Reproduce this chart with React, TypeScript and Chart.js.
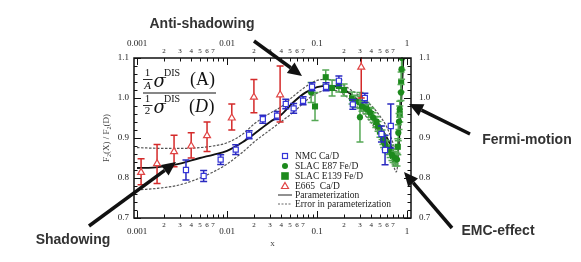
import React, { useEffect, useRef } from 'react';
import { Chart, registerables } from 'chart.js';

Chart.register(...registerables);

const W = 581;
const H = 262;

// ---- axis ticks ----
const xDecades = [0.001, 0.01, 0.1, 1];
const xDecadeLabels = ['0.001', '0.01', '0.1', '1'];
const xMinorDigits = [2, 3, 4, 5, 6, 7];
const yMajor = [0.7, 0.8, 0.9, 1.0, 1.1];
const yMajorLabels = ['0.7', '0.8', '0.9', '1.0', '1.1'];

// ---- NMC Ca/D ----
const nmcX = [0.0035, 0.0055, 0.0085, 0.0125, 0.0176, 0.025, 0.036, 0.045, 0.055, 0.07, 0.088, 0.126, 0.175, 0.25, 0.34, 0.52, 0.57, 0.66];
const nmcY = [0.82, 0.805, 0.846, 0.871, 0.908, 0.947, 0.956, 0.985, 0.974, 0.993, 1.028, 1.028, 1.043, 0.984, 1.0, 0.91, 0.87, 0.93];
const nmcErr = [0.025, 0.014, 0.012, 0.012, 0.01, 0.01, 0.01, 0.012, 0.012, 0.01, 0.01, 0.01, 0.012, 0.012, 0.012, 0.02, 0.037, 0.055];

// ---- SLAC E87 Fe/D ----
const e87X = [0.086, 0.264, 0.3, 0.316, 0.36, 0.388, 0.42, 0.46, 0.476, 0.528, 0.54, 0.57, 0.63, 0.68, 0.735, 0.774, 0.8, 0.815, 0.83, 0.857, 0.87, 0.88];
const e87Y = [1.014, 0.992, 0.952, 0.979, 0.972, 0.964, 0.951, 0.941, 0.929, 0.908, 0.896, 0.883, 0.871, 0.858, 0.85, 0.846, 0.913, 0.941, 0.972, 1.014, 1.072, 1.1];
const e87Err = [0.025, 0.015, 0.062, 0.012, 0.012, 0.012, 0.012, 0.012, 0.012, 0.012, 0.012, 0.012, 0.012, 0.014, 0.015, 0.016, 0.02, 0.02, 0.02, 0.02, 0.025, 0.03];

// ---- SLAC E139 Fe/D ----
const e139X = [0.095, 0.125, 0.147, 0.175, 0.2, 0.245, 0.3, 0.35, 0.4, 0.45, 0.5, 0.55, 0.6, 0.65, 0.7, 0.74, 0.79, 0.83, 0.86];
const e139Y = [0.979, 1.052, 1.025, 1.03, 1.02, 1.0, 0.989, 0.975, 0.96, 0.94, 0.916, 0.89, 0.878, 0.866, 0.855, 0.848, 0.878, 0.96, 1.04];
const e139Err = [0.035, 0.018, 0.02, 0.015, 0.015, 0.015, 0.015, 0.014, 0.014, 0.014, 0.014, 0.014, 0.015, 0.015, 0.016, 0.018, 0.02, 0.02, 0.025];

// ---- E665 Ca/D ----
const e665X = [0.00111, 0.00167, 0.00258, 0.004, 0.006, 0.0113, 0.0199, 0.0389, 0.31];
const e665Y = [0.814, 0.836, 0.866, 0.88, 0.906, 0.95, 1.002, 1.008, 1.077];
const e665Lo = [0.783, 0.786, 0.828, 0.85, 0.866, 0.92, 0.963, 0.94, 1.0];
const e665Hi = [0.848, 0.884, 0.907, 0.913, 0.94, 0.985, 1.046, 1.08, 1.16];

// ---- Parameterization ----
const paramX = [0.001, 0.0015, 0.002, 0.003, 0.005, 0.007, 0.01, 0.015, 0.02, 0.03, 0.04, 0.055, 0.075, 0.1, 0.13, 0.17, 0.22, 0.3, 0.4, 0.5, 0.6, 0.68, 0.73, 0.76, 0.79, 0.82, 0.85, 0.88, 0.91, 0.93];
const paramY = [0.825, 0.826, 0.829, 0.836, 0.85, 0.858, 0.868, 0.89, 0.91, 0.94, 0.958, 0.99, 1.014, 1.027, 1.031, 1.028, 1.015, 0.99, 0.962, 0.93, 0.9, 0.875, 0.857, 0.85, 0.862, 0.905, 0.97, 1.03, 1.1, 1.15];

// ---- Error band (upper / lower) ----
const upX = [0.001, 0.002, 0.003, 0.005, 0.007, 0.01, 0.015, 0.02, 0.03, 0.04, 0.055, 0.08, 0.1, 0.13, 0.17, 0.25, 0.39, 0.5, 0.6, 0.68, 0.73, 0.77, 0.8, 0.83, 0.86, 0.89, 0.92];
const upY = [0.876, 0.874, 0.874, 0.876, 0.88, 0.888, 0.91, 0.935, 0.962, 0.978, 1.005, 1.033, 1.044, 1.047, 1.04, 1.017, 0.984, 0.955, 0.926, 0.895, 0.876, 0.872, 0.895, 0.95, 1.02, 1.09, 1.16];
const loX = [0.001, 0.002, 0.003, 0.005, 0.007, 0.01, 0.015, 0.02, 0.03, 0.04, 0.055, 0.08, 0.1, 0.13, 0.17, 0.25, 0.39, 0.5, 0.6, 0.68, 0.73, 0.76, 0.78, 0.8, 0.83, 0.86, 0.89, 0.92];
const loY = [0.77, 0.776, 0.783, 0.8, 0.815, 0.835, 0.865, 0.89, 0.92, 0.941, 0.965, 0.998, 1.012, 1.02, 1.017, 0.989, 0.941, 0.905, 0.876, 0.845, 0.822, 0.815, 0.825, 0.855, 0.92, 1.0, 1.08, 1.16];

const legendLabels = ['NMC Ca/D', 'SLAC E87 Fe/D', 'SLAC E139 Fe/D', 'E665  Ca/D', 'Parameterization', 'Error in parameterization'];

const BLUE = '#3434d8';
const BLUE_ERR = '#2a2ac0';
const GREEN = '#1d8a1d';
const GREEN_ERR = '#55a855';
const RED = '#e04444';
const RED_ERR = '#d42a2a';

const SERIF = '"Liberation Serif", "DejaVu Serif", serif';
const SANS = '"Liberation Sans", Arial, sans-serif';

function sym(xs: number[], ys: number[], es: number[]) {
  return xs.map((x, i) => ({ x, y: ys[i], lo: ys[i] - es[i], hi: ys[i] + es[i] }));
}

function arrow(ctx: CanvasRenderingContext2D, x1: number, y1: number, x2: number, y2: number) {
  const ang = Math.atan2(y2 - y1, x2 - x1);
  const hl = 14;
  const hw = 6.5;
  const bx = x2 - hl * Math.cos(ang);
  const by = y2 - hl * Math.sin(ang);
  ctx.save();
  ctx.strokeStyle = '#111';
  ctx.fillStyle = '#111';
  ctx.lineWidth = 3.5;
  ctx.beginPath();
  ctx.moveTo(x1, y1);
  ctx.lineTo(bx, by);
  ctx.stroke();
  ctx.beginPath();
  ctx.moveTo(x2, y2);
  ctx.lineTo(bx + hw * Math.sin(ang), by - hw * Math.cos(ang));
  ctx.lineTo(bx - hw * Math.sin(ang), by + hw * Math.cos(ang));
  ctx.closePath();
  ctx.fill();
  ctx.restore();
}

const decorPlugin = {
  id: 'decor',
  beforeDatasetDraw(chart: any, args: any) {
    const ds = chart.data.datasets[args.index];
    if (!ds.errColor) return;
    const { ctx, chartArea: a } = chart;
    const xs = chart.scales.x;
    const ys = chart.scales.y;
    ctx.save();
    ctx.beginPath();
    ctx.rect(a.left, a.top - 1, a.right - a.left, a.bottom - a.top + 1);
    ctx.clip();
    ctx.strokeStyle = ds.errColor;
    ctx.lineWidth = 1.5;
    ds.data.forEach((p: any) => {
      const px = xs.getPixelForValue(p.x);
      const t = ys.getPixelForValue(p.hi);
      const b = ys.getPixelForValue(p.lo);
      ctx.beginPath();
      ctx.moveTo(px, t);
      ctx.lineTo(px, b);
      ctx.moveTo(px - 3.5, t);
      ctx.lineTo(px + 3.5, t);
      ctx.moveTo(px - 3.5, b);
      ctx.lineTo(px + 3.5, b);
      ctx.stroke();
    });
    ctx.restore();
  },
  afterDraw(chart: any) {
    const { ctx, chartArea: a } = chart;
    const xs = chart.scales.x;
    const ys = chart.scales.y;
    ctx.save();

    // frame
    ctx.strokeStyle = '#111';
    ctx.lineWidth = 1.5;
    ctx.strokeRect(a.left, a.top, a.right - a.left, a.bottom - a.top);

    // x ticks (inward, top and bottom)
    ctx.lineWidth = 1;
    ctx.beginPath();
    [0.001, 0.01, 0.1].forEach((d) => {
      for (let k = 1; k <= 9; k++) {
        const px = Math.round(xs.getPixelForValue(d * k)) + 0.5;
        const len = k === 1 ? 7 : 3.5;
        ctx.moveTo(px, a.bottom);
        ctx.lineTo(px, a.bottom - len);
        ctx.moveTo(px, a.top);
        ctx.lineTo(px, a.top + len);
      }
    });
    {
      const px = Math.round(xs.getPixelForValue(1)) + 0.5;
      ctx.moveTo(px, a.bottom);
      ctx.lineTo(px, a.bottom - 7);
      ctx.moveTo(px, a.top);
      ctx.lineTo(px, a.top + 7);
    }
    // y ticks (inward, left and right)
    for (let i = 0; i <= 20; i++) {
      const v = 0.7 + i * 0.02;
      const py = Math.round(ys.getPixelForValue(v)) + 0.5;
      const len = i % 5 === 0 ? 7 : 3.5;
      ctx.moveTo(a.left, py);
      ctx.lineTo(a.left + len, py);
      ctx.moveTo(a.right, py);
      ctx.lineTo(a.right - len, py);
    }
    ctx.stroke();

    // x labels
    ctx.fillStyle = '#222';
    ctx.textAlign = 'center';
    ctx.textBaseline = 'middle';
    ctx.font = `9px ${SERIF}`;
    xDecades.forEach((v, i) => {
      const px = xs.getPixelForValue(v);
      ctx.fillText(xDecadeLabels[i], px, 44);
      ctx.fillText(xDecadeLabels[i], px, 232);
    });
    ctx.font = `7px ${SERIF}`;
    [0.001, 0.01, 0.1].forEach((d) => {
      xMinorDigits.forEach((k) => {
        const px = xs.getPixelForValue(d * k);
        ctx.fillText(String(k), px, 51);
        ctx.fillText(String(k), px, 225);
      });
    });
    // y labels
    ctx.font = `9px ${SERIF}`;
    yMajor.forEach((v, i) => {
      const py = ys.getPixelForValue(v);
      ctx.textAlign = 'right';
      ctx.fillText(yMajorLabels[i], a.left - 5, py);
      ctx.textAlign = 'left';
      ctx.fillText(yMajorLabels[i], a.right + 8, py);
    });
    // axis titles
    ctx.textAlign = 'center';
    ctx.fillStyle = '#444';
    ctx.font = `9px ${SERIF}`;
    ctx.fillText('x', (a.left + a.right) / 2, 244);
    ctx.save();
    ctx.translate(107, 138);
    ctx.rotate(-Math.PI / 2);
    ctx.textAlign = 'left';
    const parts: [string, boolean][] = [['F', false], ['2', true], ['(X) / F', false], ['2', true], ['(D)', false]];
    let total = 0;
    parts.forEach(([t, sub]) => {
      ctx.font = sub ? `6px ${SERIF}` : `9px ${SERIF}`;
      total += ctx.measureText(t).width;
    });
    let cx = -total / 2;
    parts.forEach(([t, sub]) => {
      ctx.font = sub ? `6px ${SERIF}` : `9px ${SERIF}`;
      ctx.fillText(t, cx, sub ? 2.5 : 0);
      cx += ctx.measureText(t).width;
    });
    ctx.restore();

    // legend
    const lx = 285;
    const ty = [156, 166, 176, 186, 195, 204];
    ctx.textAlign = 'left';
    ctx.fillStyle = '#222';
    ctx.font = `9.5px ${SERIF}`;
    legendLabels.forEach((t, i) => ctx.fillText(t, 295, ty[i]));
    ctx.lineWidth = 1.2;
    ctx.strokeStyle = BLUE;
    ctx.strokeRect(lx - 2.5, ty[0] - 2.5, 5, 5);
    ctx.fillStyle = GREEN;
    ctx.beginPath();
    ctx.arc(lx, ty[1], 3, 0, Math.PI * 2);
    ctx.fill();
    ctx.fillRect(lx - 3.8, ty[2] - 3.8, 7.6, 7.6);
    ctx.strokeStyle = RED;
    ctx.beginPath();
    ctx.moveTo(lx, ty[3] - 3.5);
    ctx.lineTo(lx + 3.5, ty[3] + 2.5);
    ctx.lineTo(lx - 3.5, ty[3] + 2.5);
    ctx.closePath();
    ctx.stroke();
    ctx.strokeStyle = '#222';
    ctx.lineWidth = 1;
    ctx.beginPath();
    ctx.moveTo(278, ty[4]);
    ctx.lineTo(292, ty[4]);
    ctx.stroke();
    ctx.strokeStyle = '#666';
    ctx.setLineDash([2, 1.5]);
    ctx.beginPath();
    ctx.moveTo(278, ty[5]);
    ctx.lineTo(292, ty[5]);
    ctx.stroke();
    ctx.setLineDash([]);

    // formula
    ctx.fillStyle = '#111';
    ctx.strokeStyle = '#111';
    ctx.textAlign = 'center';
    ctx.font = `11px ${SERIF}`;
    ctx.fillText('1', 147.5, 73.5);
    ctx.font = `italic 11px ${SERIF}`;
    ctx.fillText('A', 147.5, 86);
    ctx.font = `11px ${SERIF}`;
    ctx.fillText('1', 147.5, 99.5);
    ctx.fillText('2', 147.5, 111.5);
    ctx.lineWidth = 0.9;
    ctx.beginPath();
    ctx.moveTo(143, 79.5);
    ctx.lineTo(152.5, 79.5);
    ctx.moveTo(143, 105.5);
    ctx.lineTo(152.5, 105.5);
    ctx.stroke();
    ctx.lineWidth = 1.1;
    ctx.beginPath();
    ctx.moveTo(143, 93);
    ctx.lineTo(216, 93);
    ctx.stroke();
    ctx.textAlign = 'left';
    ctx.font = `italic 18px "DejaVu Serif", serif`;
    ctx.fillText('σ', 153.5, 82.5);
    ctx.fillText('σ', 153.5, 108.5);
    ctx.font = `10px ${SERIF}`;
    ctx.fillText('DIS', 164, 73.5);
    ctx.fillText('DIS', 164, 99.5);
    ctx.font = `18px ${SERIF}`;
    ctx.fillText('(A)', 190, 80);
    ctx.fillText('(', 189, 107);
    let dx = 189 + ctx.measureText('(').width;
    ctx.font = `italic 18px ${SERIF}`;
    ctx.fillText('D', dx, 107);
    dx += ctx.measureText('D').width + 0.5;
    ctx.font = `18px ${SERIF}`;
    ctx.fillText(')', dx, 107);

    // annotations
    ctx.fillStyle = '#333';
    ctx.textAlign = 'center';
    ctx.font = `bold 14px ${SANS}`;
    ctx.fillText('Anti-shadowing', 202, 24);
    ctx.fillText('Shadowing', 73, 240);
    ctx.fillText('Fermi-motion', 527, 140);
    ctx.fillText('EMC-effect', 498, 231);
    arrow(ctx, 254, 41, 302, 76);
    arrow(ctx, 89, 226, 176, 162);
    arrow(ctx, 470, 134, 409, 104);
    arrow(ctx, 452, 228, 404, 172);

    ctx.restore();
  },
};

export default function App() {
  const ref = useRef<HTMLCanvasElement | null>(null);
  useEffect(() => {
    if (!ref.current) return;
    const chart = new Chart(ref.current, {
      type: 'scatter',
      data: {
        datasets: [
          {
            label: 'E665  Ca/D',
            data: e665X.map((x, i) => ({ x, y: e665Y[i], lo: e665Lo[i], hi: e665Hi[i] })),
            pointStyle: 'triangle',
            pointRadius: 4,
            pointBackgroundColor: '#ffffff',
            pointBorderColor: RED,
            pointBorderWidth: 1.2,
            errColor: RED_ERR,
            order: 0,
          } as any,
          {
            label: 'NMC Ca/D',
            data: sym(nmcX, nmcY, nmcErr),
            pointStyle: 'rect',
            pointRadius: 3.6,
            pointBackgroundColor: '#ffffff',
            pointBorderColor: BLUE,
            pointBorderWidth: 1.2,
            errColor: BLUE_ERR,
            order: 1,
          } as any,
          {
            label: 'SLAC E87 Fe/D',
            data: sym(e87X, e87Y, e87Err),
            pointStyle: 'circle',
            pointRadius: 3.1,
            pointBackgroundColor: GREEN,
            pointBorderColor: GREEN,
            pointBorderWidth: 0,
            errColor: GREEN_ERR,
            order: 2,
          } as any,
          {
            label: 'SLAC E139 Fe/D',
            data: sym(e139X, e139Y, e139Err),
            pointStyle: 'rect',
            pointRadius: 4.3,
            pointBackgroundColor: GREEN,
            pointBorderColor: GREEN,
            pointBorderWidth: 0,
            errColor: GREEN_ERR,
            order: 3,
          } as any,
          {
            type: 'line',
            label: 'Parameterization',
            data: paramX.map((x, i) => ({ x, y: paramY[i] })),
            borderColor: '#111',
            borderWidth: 1.9,
            pointRadius: 0,
            showLine: true,
            cubicInterpolationMode: 'monotone',
            order: 10,
          } as any,
          {
            type: 'line',
            label: 'Error in parameterization',
            data: upX.map((x, i) => ({ x, y: upY[i] })),
            borderColor: '#555',
            borderWidth: 1.2,
            borderDash: [2.5, 1.5],
            pointRadius: 0,
            showLine: true,
            cubicInterpolationMode: 'monotone',
            order: 11,
          } as any,
          {
            type: 'line',
            label: 'Error in parameterization (lower)',
            data: loX.map((x, i) => ({ x, y: loY[i] })),
            borderColor: '#555',
            borderWidth: 1.2,
            borderDash: [2.5, 1.5],
            pointRadius: 0,
            showLine: true,
            cubicInterpolationMode: 'monotone',
            order: 12,
          } as any,
        ],
      },
      options: {
        responsive: false,
        animation: false,
        devicePixelRatio: 1,
        layout: { padding: { left: 134, right: W - 411, top: 58, bottom: H - 218 } },
        plugins: { legend: { display: false }, tooltip: { enabled: false }, title: { display: false } },
        events: [],
        scales: {
          x: { type: 'logarithmic', min: 0.000926, max: 1.107, display: false },
          y: { type: 'linear', min: 0.7, max: 1.1, display: false },
        },
      },
      plugins: [decorPlugin],
    });
    return () => chart.destroy();
  }, []);
  return (
    <div style={{ position: 'fixed', left: 0, top: 0, width: W, height: H, background: '#fff' }}>
      <canvas ref={ref} width={W} height={H} style={{ width: W, height: H, display: 'block' }} />
    </div>
  );
}
